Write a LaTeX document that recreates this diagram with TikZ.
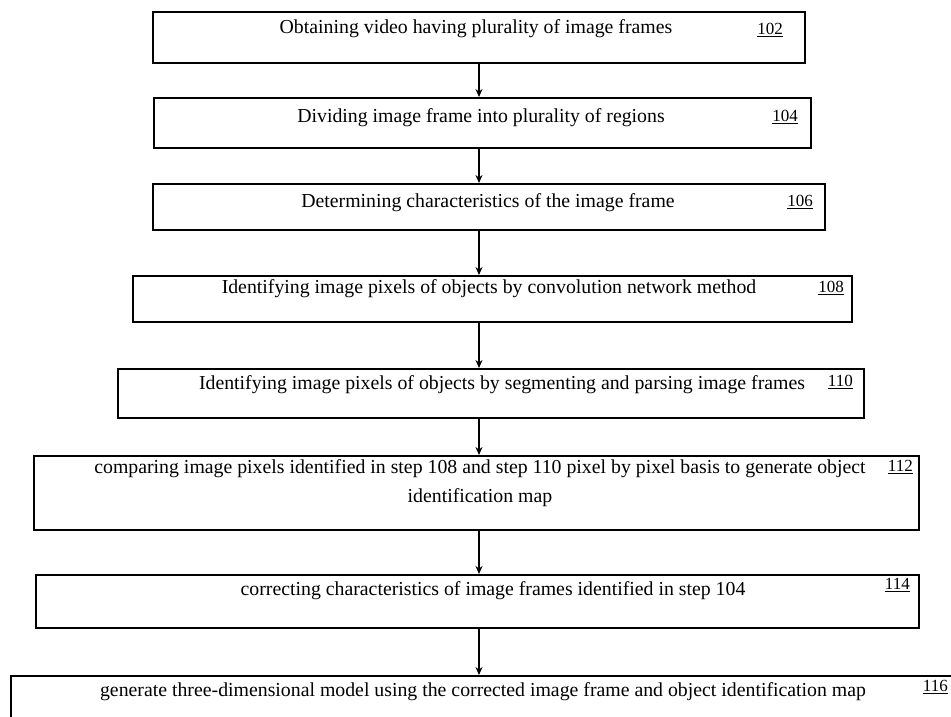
\documentclass[tikz,border=0pt]{standalone}
\usepackage{fontspec}
\setmainfont{Liberation Serif}
\usetikzlibrary{arrows.meta}
\begin{document}
\begin{tikzpicture}[x=1pt,y=-1pt,
  box/.style={draw, line width=1.7pt, inner sep=0pt, anchor=north west},
  txt/.style={font=\fontsize{19.8}{29}\selectfont, inner sep=0pt, anchor=center, align=center},
  lbl/.style={font=\fontsize{17}{20}\selectfont, inner sep=0pt, anchor=east},
  arr/.style={line width=1.7pt, -{Stealth[length=8pt,width=7pt]}}]
\useasboundingbox (0,0) rectangle (951,717);
\clip (0,0) rectangle (951,717);
\fill[white] (0,0) rectangle (951,717);
% boxes
\node[box, minimum width=652pt, minimum height=51pt] (b102) at (152,11) {};
\node[box, minimum width=657pt, minimum height=50pt] (b104) at (153,97) {};
\node[box, minimum width=672pt, minimum height=46pt] (b106) at (152,183) {};
\node[box, minimum width=719pt, minimum height=46pt] (b108) at (132,275) {};
\node[box, minimum width=746pt, minimum height=49pt] (b110) at (117,368) {};
\node[box, minimum width=885pt, minimum height=74pt] (b112) at (33,455) {};
\node[box, minimum width=883pt, minimum height=53pt] (b114) at (35,574) {};
\node[box, minimum width=960pt, minimum height=80pt] (b116) at (10,675) {};
% texts
\node[txt] (t102) at (476,29) {Obtaining video having plurality of image frames};
\node[txt] (t104) at (481,118) {Dividing image frame into plurality of regions};
\node[txt] (t106) at (488,203) {Determining characteristics of the image frame};
\node[txt] (t108) at (489,289) {Identifying image pixels of objects by convolution network method};
\node[txt] (t110) at (502,385) {Identifying image pixels of objects by segmenting and parsing image frames};
\node[txt] (t112) at (480,483) {comparing image pixels identified in step 108 and step 110 pixel by pixel basis to generate object\\identification map};
\node[txt] (t114) at (493,591) {correcting characteristics of image frames identified in step 104};
\node[txt] (t116) at (483,692) {generate three-dimensional model using the corrected image frame and object identification map};
% labels
\node[lbl] (l102) at (783,30) {\underline{102}};
\node[lbl] (l104) at (798,117) {\underline{104}};
\node[lbl] (l106) at (813,202) {\underline{106}};
\node[lbl] (l108) at (844,288) {\underline{108}};
\node[lbl] (l110) at (853,382) {\underline{110}};
\node[lbl] (l112) at (913,467) {\underline{112}};
\node[lbl] (l114) at (910,585) {\underline{114}};
\node[lbl] (l116) at (948,687) {\underline{116}};
% connectors
\coordinate (ax) at (479,0);
\draw[arr] (b102.south -| ax) -- (b104.north -| ax);
\draw[arr] (b104.south -| ax) -- (b106.north -| ax);
\draw[arr] (b106.south -| ax) -- (b108.north -| ax);
\draw[arr] (b108.south -| ax) -- (b110.north -| ax);
\draw[arr] (b110.south -| ax) -- (b112.north -| ax);
\draw[arr] (b112.south -| ax) -- (b114.north -| ax);
\draw[arr] (b114.south -| ax) -- (b116.north -| ax);
\end{tikzpicture}
\end{document}
